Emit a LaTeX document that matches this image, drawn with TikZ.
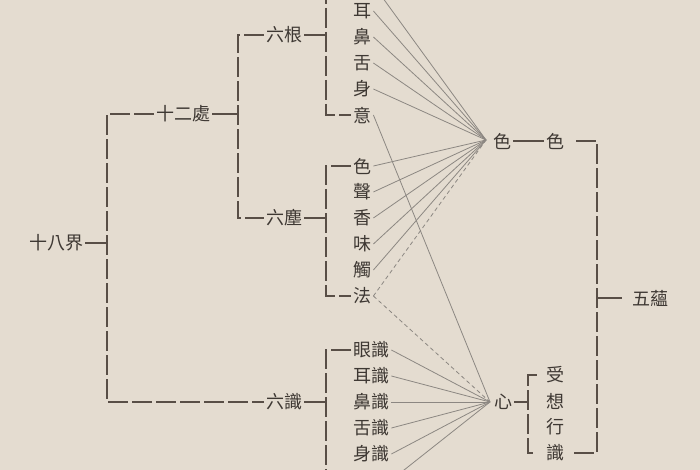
\documentclass[tikz,border=0pt]{standalone}
\usepackage{fontspec}
\newfontfamily\cjk{Noto Sans CJK TC}
\definecolor{paper}{RGB}{228,220,208}
\definecolor{ink}{RGB}{62,56,51}
\definecolor{rulecol}{RGB}{88,78,70}
\definecolor{raycol}{RGB}{140,135,130}

\begin{document}
\begin{tikzpicture}[x=1pt,y=-1pt,
  every node/.style={font=\cjk\fontsize{18}{18}\selectfont, text=ink, inner sep=2pt},
  br/.style={draw=rulecol, line width=1.1pt, dash pattern=on 20pt off 4pt},
  tick/.style={draw=rulecol, line width=1.1pt},
  ray/.style={draw=raycol, line width=0.8pt},
  dray/.style={ray, dash pattern=on 4pt off 3pt},
  item/.style={anchor=west}]
\fill[paper] (0,0) rectangle (700,470);
\clip (0,0) rectangle (700,470);
\node (jie) at (56,243) {十八界};
\node (shier) at (183,114) {十二處};
\node (liugen) at (284,35) {六根};
\node (liuchen) at (284,218) {六塵};
\node (liushi) at (284,402) {六識};
\foreach \t [count=\i] in {眼,耳,鼻,舌,身,意} \node[item] (g\i) at (351,-41+26*\i) {\t};
\foreach \t [count=\i] in {色,聲,香,味,觸,法} \node[item] (d\i) at (351,140+26*\i) {\t};
\foreach \t [count=\i] in {眼識,耳識,鼻識,舌識,身識,意識} \node[item] (s\i) at (351,324+26*\i) {\t};
\coordinate (cs) at (486,140);
\coordinate (cx) at (490,402);
\node (se) at (502,141) {色};
\node (xin) at (503,402) {心};
\node (se2) at (555,141) {色};
\foreach \t [count=\i] in {受,想,行,識} \node (y\i) at (555,349+26*\i) {\t};
\node (wuyun) at (650,298) {五蘊};
\foreach \i in {1,...,5} \draw[ray] (g\i.east) -- (cs);
\draw[ray] (g6.east) -- (cx);
\foreach \i in {1,...,5} \draw[ray] (d\i.east) -- (cs);
\draw[dray] (d6.east) -- (cs);
\draw[dray] (d6.east) -- (cx);
\foreach \i in {1,...,6} \draw[ray] (s\i.east) -- (cx);
\draw[tick] (jie.east) -- (107,243);
\draw[br] (shier.west) -- (107,114) -- (107,402) -- (liushi.west);
\draw[tick] (shier.east) -- (238,114);
\draw[br] (liugen.west) -- (238,35) -- (238,218) -- (liuchen.west);
\draw[tick] (liugen.east) -- (326,35);
\draw[br] (g1.west) -- (326,-15) -- (326,115) -- (g6.west);
\draw[tick] (liuchen.east) -- (326,218);
\draw[br] (d1.west) -- (326,166) -- (326,296) -- (d6.west);
\draw[tick] (liushi.east) -- (326,402);
\draw[br] (s1.west) -- (326,350) -- (326,480) -- (s6.west);
\draw[tick] (se.east) -- (se2.west);
\draw[tick] (xin.east) -- (528,402);
\draw[br, shorten <=7pt, shorten >=7pt] (y1.west) -- (528,375) -- (528,453) -- (y4.west);
\draw[br, shorten <=8pt, shorten >=8pt] (y4.east) -- (597,453) -- (597,141) -- (se2.east);
\draw[tick, shorten >=8pt] (597,298) -- (wuyun.west);
\end{tikzpicture}
\end{document}
